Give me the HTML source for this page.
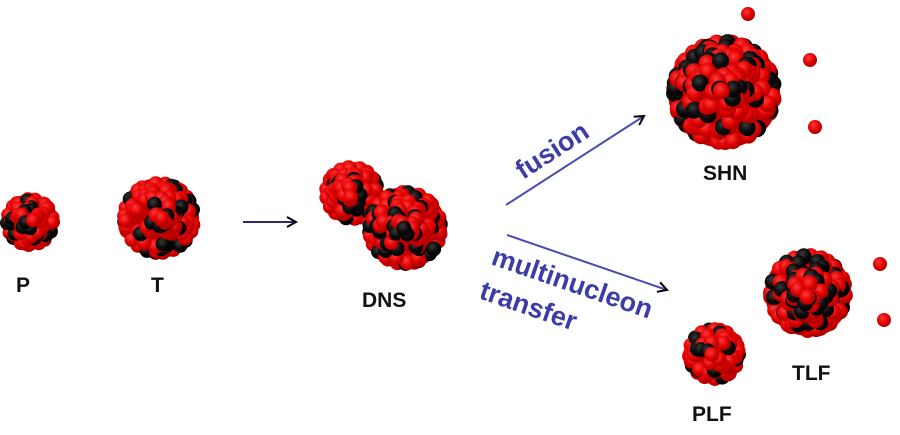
<!DOCTYPE html>
<html><head><meta charset="utf-8"><style>
html,body{margin:0;padding:0;background:#fff;width:900px;height:435px;overflow:hidden}
svg{position:absolute;left:0;top:0}
.l{font-family:"Liberation Sans",Arial,sans-serif;font-weight:bold;font-size:21px;fill:#111}
.b{font-family:"Liberation Sans",Arial,sans-serif;font-weight:bold;font-size:27px;fill:#3c3ca6}
</style></head><body>
<svg id="s" width="900" height="435" viewBox="0 0 900 435">
<defs>
<radialGradient id="rg" cx="0.4" cy="0.35" r="0.65"><stop offset="0" stop-color="#ff3a3a"/><stop offset="0.6" stop-color="#e00000"/><stop offset="1" stop-color="#a80000"/></radialGradient>
<radialGradient id="bg" cx="0.4" cy="0.35" r="0.65"><stop offset="0" stop-color="#3a3a3a"/><stop offset="0.6" stop-color="#0a0a0a"/><stop offset="1" stop-color="#000"/></radialGradient>
<marker id="ah" markerWidth="12" markerHeight="12" refX="10" refY="6" orient="auto" markerUnits="userSpaceOnUse"><path d="M1,1 L10,6 L1,11" fill="none" stroke="currentColor" stroke-width="2"/></marker>
</defs>
<g id="nuc"></g>
<line x1="243" y1="222" x2="296" y2="222" stroke="#2a2a78" color="#2a2a78" stroke-width="2" marker-end="url(#ah)"/>
<line x1="506" y1="205" x2="644" y2="116" stroke="#4a4ab0" color="#4a4ab0" stroke-width="2" marker-end="url(#ah)"/>
<line x1="507" y1="235" x2="667" y2="290" stroke="#4a4ab0" color="#4a4ab0" stroke-width="2" marker-end="url(#ah)"/>
<text class="b" transform="translate(523,180) rotate(-33)">fusion</text>
<text class="b" transform="translate(490,264) rotate(19)">multinucleon</text>
<text class="b" transform="translate(478,298) rotate(19)">transfer</text>
<text class="l" x="16" y="292">P</text>
<text class="l" x="151" y="292">T</text>
<text class="l" x="362" y="307">DNS</text>
<text class="l" x="703" y="180">SHN</text>
<text class="l" x="792" y="380">TLF</text>
<text class="l" x="692" y="421">PLF</text>
</svg>
<script>
var seed=7;function r(){seed=(seed*16807)%2147483647;return seed/2147483647;}
var g=document.getElementById('nuc'),ns='http://www.w3.org/2000/svg';
function ball(x,y,rad,black){var c=document.createElementNS(ns,'circle');c.setAttribute('cx',x.toFixed(1));c.setAttribute('cy',y.toFixed(1));c.setAttribute('r',rad);c.setAttribute('fill',black?'url(#bg)':'url(#rg)');g.appendChild(c);}
function nuc(cx,cy,R,br){
var base=document.createElementNS(ns,'circle');base.setAttribute('cx',cx);base.setAttribute('cy',cy);base.setAttribute('r',R-2);base.setAttribute('fill','#c00000');g.appendChild(base);
var n=Math.round(R*R/(br*br)*2.4);var pts=[];
var m=Math.round(2*Math.PI*(R-br)/(br*1.2));for(var j=0;j<m;j++){var a2=j/m*Math.PI*2+r()*0.2;pts.push([cx+Math.cos(a2)*(R-br),cy+Math.sin(a2)*(R-br),r()<0.3]);}
for(var i=0;i<n;i++){var a=r()*Math.PI*2,d=Math.sqrt(r())*(R-br);pts.push([cx+Math.cos(a)*d,cy+Math.sin(a)*d,r()<0.33]);}
pts.sort(function(p,q){return Math.hypot(q[0]-cx,q[1]-cy)-Math.hypot(p[0]-cx,p[1]-cy);});
pts.forEach(function(p){ball(p[0],p[1],br,p[2]);});}
nuc(30,222,30,7);
nuc(159,218,42,7.5);
nuc(352,193,33,7.5);
nuc(405,228,43,7.5);
nuc(724,92,58,8.5);
nuc(808,293,45,8);
nuc(714,354,32,7.5);
ball(748,14,7,false);ball(810,60,7,false);ball(815,127,7,false);
ball(880,264,7,false);ball(884,320,7,false);
</script>
</body></html>
